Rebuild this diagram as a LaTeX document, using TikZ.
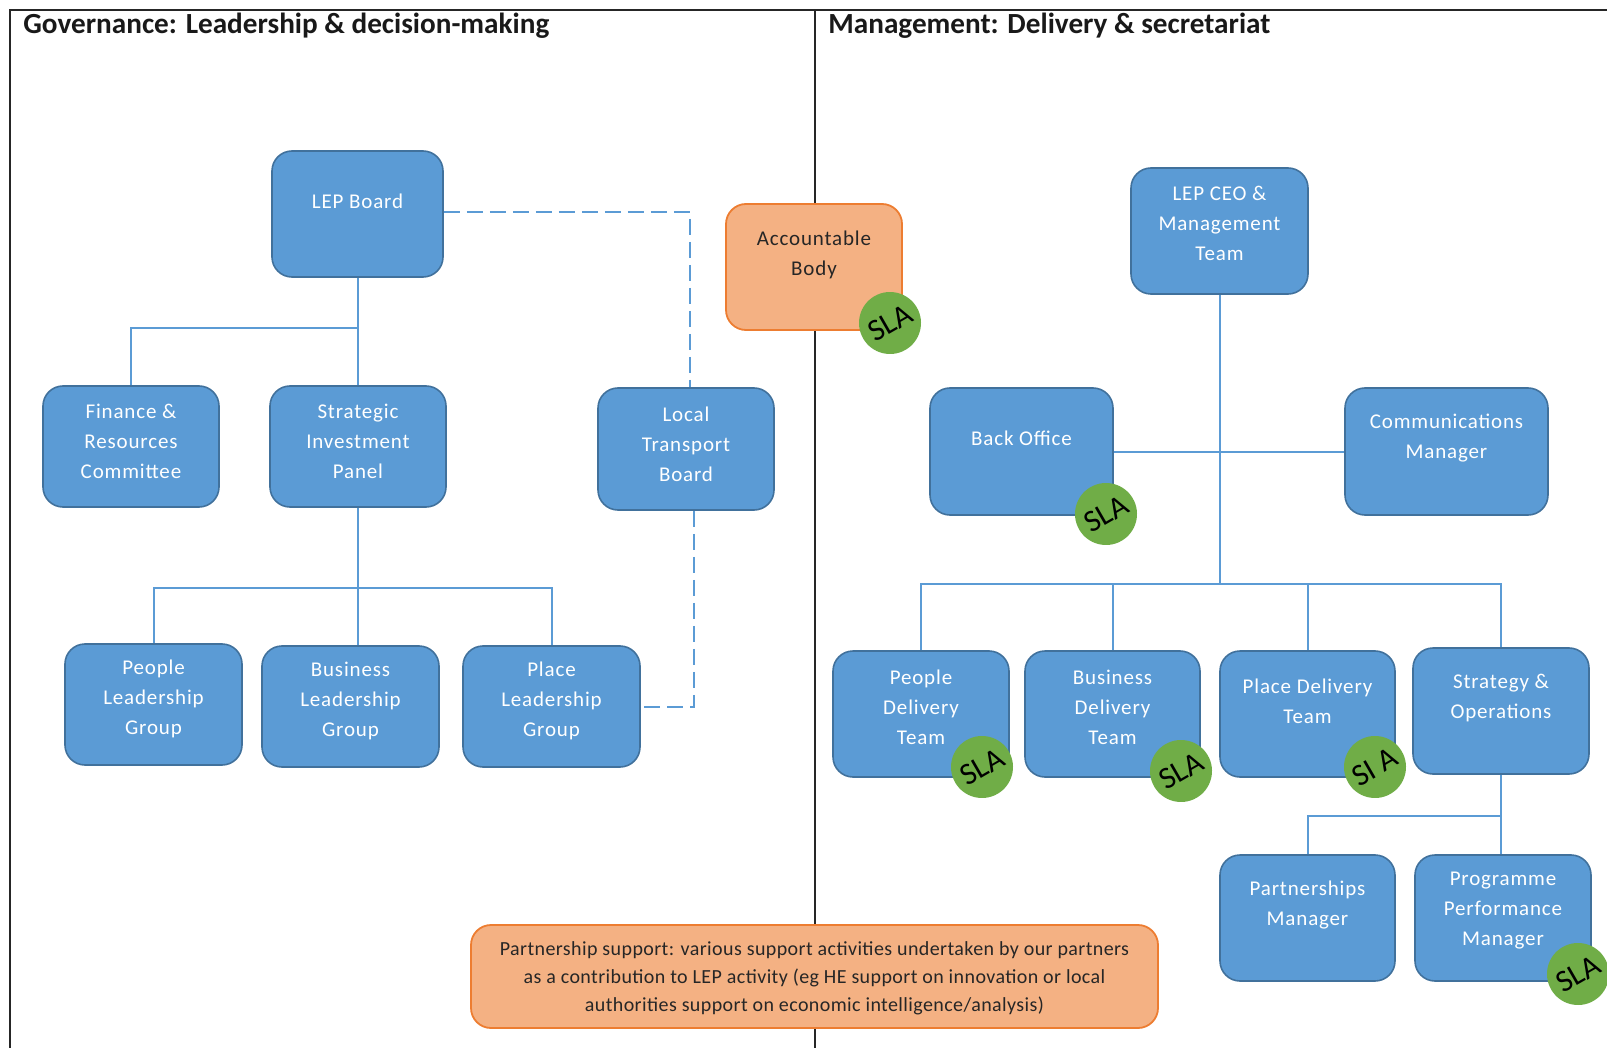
\documentclass[tikz,border=0pt]{standalone}
\usepackage{fontspec}
\setmainfont{Carlito}
\newfontfamily\boxfont[LetterSpace=4]{Carlito}
\newfontfamily\psfont[LetterSpace=2]{Carlito}
\usetikzlibrary{calc}
\definecolor{boxblue}{HTML}{5B9BD5}
\definecolor{boxedge}{HTML}{41719C}
\definecolor{orfill}{HTML}{F4B183}
\definecolor{oredge}{HTML}{ED7D31}
\definecolor{slagreen}{HTML}{70AD47}
\begin{document}
\begin{tikzpicture}[x=0.5pt,y=-0.5pt,
  sz/.style 2 args={minimum width=#1*0.5pt, minimum height=#2*0.5pt},
  box/.style={draw=boxedge, line width=0.8pt, fill=boxblue, rounded corners=10pt, inner sep=0pt},
  obox/.style={draw=oredge, line width=0.9pt, fill=orfill, rounded corners=10pt, inner sep=0pt},
  btxt/.style={text=white, font=\boxfont\fontsize{10.5}{15}\selectfont, align=center, inner sep=0pt},
  otxt/.style={text=black!85, font=\boxfont\fontsize{10.5}{15}\selectfont, align=center, inner sep=0pt},
  pstxt/.style={text=black!85, font=\psfont\fontsize{10}{14}\selectfont, align=center, inner sep=0pt},
  sla/.style={circle, fill=slagreen, minimum size=31pt, inner sep=0pt, text=black, font=\fontsize{15.5}{15.5}\selectfont, rotate=30},
  conn/.style={draw=boxblue, line width=1pt},
  dconn/.style={conn, dash pattern=on 8pt off 3.5pt},
  frame/.style={draw=black!85, line width=1pt},
  head/.style={anchor=west, inner sep=0pt, font=\bfseries\fontsize{14.6}{17}\selectfont, text=black!90}
]
\useasboundingbox (0,0) rectangle (1607,1048);
% frame
\coordinate (ftl) at (10,10);
\coordinate (ftr) at (1607,10);
\coordinate (fbl) at (10,1048);
\coordinate (dtop) at (815,10);
\coordinate (dbot) at (815,1048);
\draw[frame] (ftr) -- (ftl) -- (fbl);
\draw[frame] (dtop) -- (dbot);
% headers
\node[head] (h1) at (23,26) {Governance: Leadership \& decision-making};
\node[head] (h2) at (828,26) {Management: Delivery \& secretariat};

% ---------- left boxes ----------
\node[box, sz={171}{126}] (lep) at (357.5,214) {};
\node[box, sz={176}{121}] (fin) at (131,446.5) {};
\node[box, sz={176}{121}] (sip) at (358,446.5) {};
\node[box, sz={176}{122}] (ltb) at (686,449) {};
\node[box, sz={177}{121}] (plg) at (153.5,704.5) {};
\node[box, sz={177}{121}] (blg) at (350.5,706.5) {};
\node[box, sz={177}{121}] (pllg) at (551.5,706.5) {};
% accountable body
\node[obox, sz={176}{126}] (acc) at (814,267) {};
% ---------- right boxes ----------
\node[box, sz={177}{126}] (ceo) at (1219.5,231) {};
\node[box, sz={183}{127}] (bo) at (1021.5,451.5) {};
\node[box, sz={203}{127}] (comm) at (1446.5,451.5) {};
\node[box, sz={176}{126}] (pdt) at (921,714) {};
\node[box, sz={175}{126}] (bdt) at (1112.5,714) {};
\node[box, sz={175}{126}] (pldt) at (1307.5,714) {};
\node[box, sz={176}{126}] (so) at (1501,711) {};
\node[box, sz={175}{126}] (pm) at (1307.5,918) {};
\node[box, sz={176}{126}] (ppm) at (1503,918) {};
% partnership support
\node[obox, sz={687}{103}] (ps) at (814.5,976.5) {};

% ---------- connectors left ----------
\coordinate (jl1) at (357,328);
\coordinate (jl2) at (359,588);
\draw[conn] (lep.south) -- (lep.south |- sip.north);
\draw[conn] (lep.south |- jl1) -| (fin.north);
\draw[conn] (sip.south) -- (sip.south |- blg.north);
\draw[conn] (plg.north) |- (jl2) -| (pllg.north);
\draw[dconn] ([yshift=1pt]lep.east) -| ([xshift=2pt]ltb.north);
\draw[dconn] ([xshift=4pt]ltb.south) |- (pllg.east);

% ---------- connectors right ----------
\coordinate (jr1) at (1220,584);
\coordinate (jr2) at (1501,816);
\draw[conn] (ceo.south) -- (ceo.south |- jr1);
\draw[conn] (bo.east) -- (comm.west);
\draw[conn] (pdt.north) |- (jr1) -| (so.north);
\draw[conn] (bdt.north) -- (bdt.north |- jr1);
\draw[conn] (pldt.north) -- (pldt.north |- jr1);
\draw[conn] (so.south) -- (so.south |- ppm.north);
\draw[conn] (jr2) -| (pm.north);

% ---------- texts ----------
\node[btxt] (lept) at ($(lep.center)+(0,-13)$) {LEP Board};
\node[btxt] (fint) at ($(fin.center)+(0,-5)$) {Finance \&\\Resources\\Committee};
\node[btxt] (sipt) at ($(sip.center)+(0,-5)$) {Strategic\\Investment\\Panel};
\node[btxt] (ltbt) at ($(ltb.center)+(0,-5)$) {Local\\Transport\\Board};
\node[btxt] (plgt) at ($(plg.center)+(0,-6)$) {People\\Leadership\\Group};
\node[btxt] (blgt) at ($(blg.center)+(0,-6)$) {Business\\Leadership\\Group};
\node[btxt] (pllgt) at ($(pllg.center)+(0,-6)$) {Place\\Leadership\\Group};
\node[otxt] (acct) at ($(acc.center)+(0,-12)$) {Accountable\\Body};
\node[btxt] (ceot) at ($(ceo.center)+(0,-8)$) {LEP CEO \&\\Management\\Team};
\node[btxt] (bot) at ($(bo.center)+(0,-13)$) {Back Office};
\node[btxt] (commt) at ($(comm.center)+(0,-13)$) {Communications\\Manager};
\node[btxt] (pdtt) at ($(pdt.center)+(0,-7)$) {People\\Delivery\\Team};
\node[btxt] (bdtt) at ($(bdt.center)+(0,-7)$) {Business\\Delivery\\Team};
\node[btxt] (pldtt) at ($(pldt.center)+(0,-13)$) {Place Delivery\\Team};
\node[btxt] (sot) at ($(so.center)+(0,-13)$) {Strategy \&\\Operations};
\node[btxt] (pmt) at ($(pm.center)+(0,-13)$) {Partnerships\\Manager};
\node[btxt] (ppmt) at ($(ppm.center)+(0,-7)$) {Programme\\Performance\\Manager};
\node[pstxt] (pst) at ($(ps.center)+(0,2)$) {Partnership support: various support activities undertaken by our partners\\as a contribution to LEP activity (eg HE support on innovation or local\\authorities support on economic intelligence/analysis)};

% ---------- SLA badges ----------
\node[sla] (sla1) at (890,323) {SLA};
\node[sla] (sla2) at (1106,514) {SLA};
\node[sla] (sla3) at (982,767) {SLA};
\node[sla] (sla4) at (1181,771) {SLA};
\node[sla] (sla5) at (1375,767) {SI A};
\node[sla] (sla6) at (1578,974) {SLA};
\end{tikzpicture}
\end{document}
